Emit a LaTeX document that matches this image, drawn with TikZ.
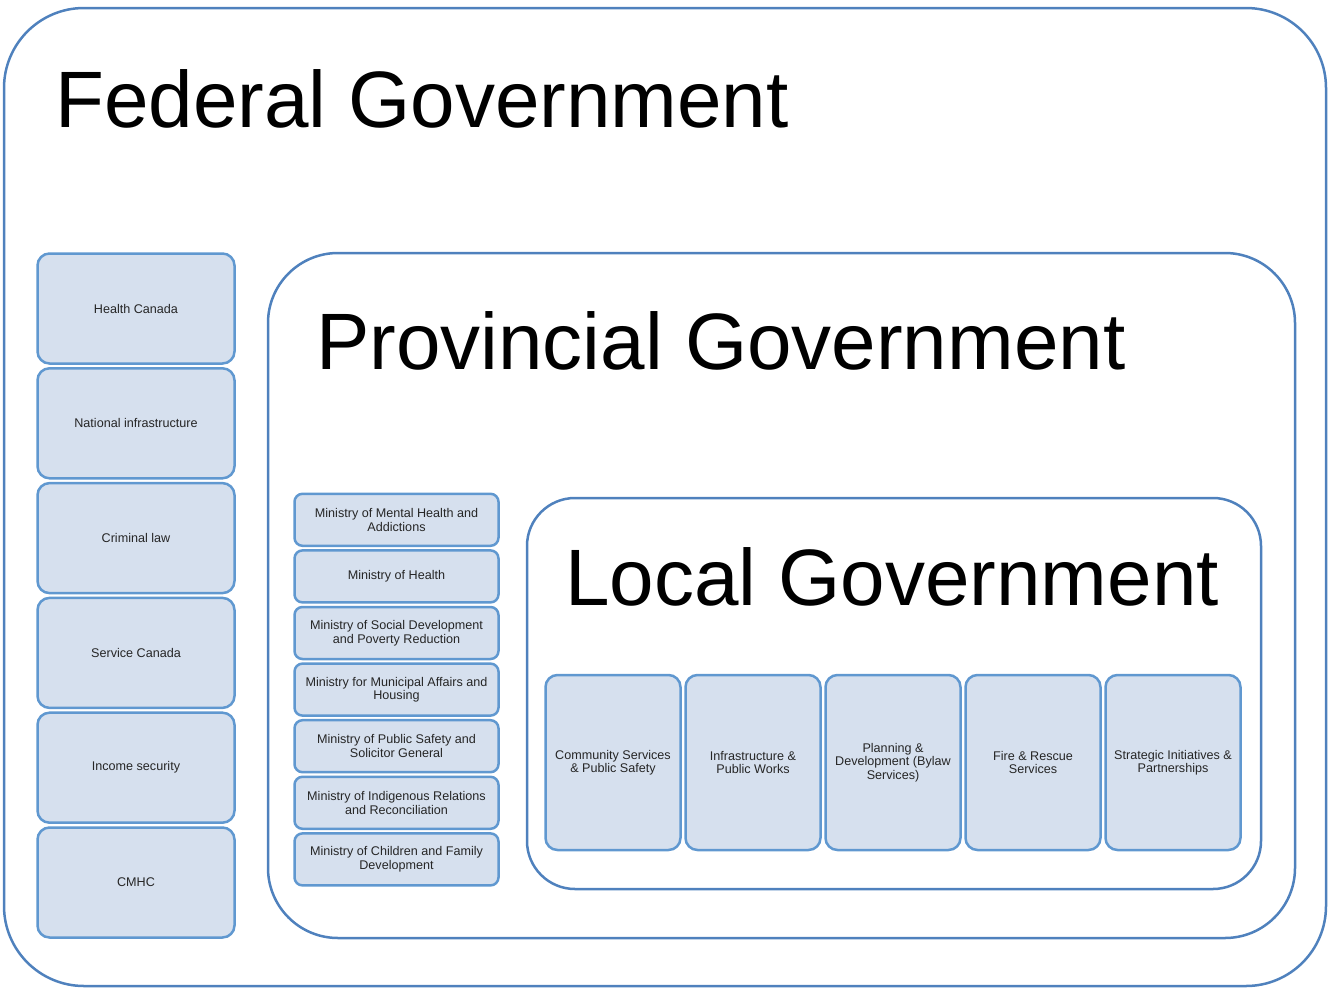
\documentclass[tikz,border=0pt]{standalone}
\usepackage{fontspec}
\setmainfont{Liberation Sans}
\definecolor{frameblue}{RGB}{79,129,189}
\definecolor{cellblue}{RGB}{96,152,208}
\definecolor{cellfill}{RGB}{214,224,238}
\tikzset{
  govframe/.style={draw=frameblue,line width=2.5pt},
  govtitle/.style={anchor=base west,inner sep=0pt,font=\fontsize{80}{80}\selectfont},
  unitbox/.style={draw=cellblue,fill=cellfill,line width=2.5pt,rounded corners=12pt,
    align=center,inner sep=2pt,text=black!85,font=\fontsize{12.6}{13.5}\selectfont},
}

\begin{document}
\begin{tikzpicture}[x=1pt,y=-1pt]
  \useasboundingbox (0,0) rectangle (1328,988);

  % nested frames
  \draw[govframe,rounded corners=80pt] (4,8) rectangle (1326,986);
  \draw[govframe,rounded corners=70pt] (268,253) rectangle (1295,938);
  \draw[govframe,rounded corners=48pt] (527,498) rectangle (1261,889);

  \node[govtitle] (fedtitle) at (55,127) {Federal Government};
  \node[govtitle] (provtitle) at (316,369) {Provincial Government};
  \node[govtitle] (loctitle) at (565,605) {Local Government};

  % federal units
  \foreach \nm/\txt [count=\i from 0] in {health/{Health Canada},infra/{National infrastructure},
      crim/{Criminal law},service/{Service Canada},income/{Income security},cmhc/{CMHC}}
    \node[unitbox,minimum width=197pt,minimum height=110pt] (fed-\nm) at (136,308.5+114.8*\i) {\txt};

  % provincial ministries
  \foreach \nm/\txt [count=\i from 0] in {mental/{Ministry of Mental Health and\\Addictions},
      health/{Ministry of Health},
      social/{Ministry of Social Development\\and Poverty Reduction},
      municipal/{Ministry for Municipal Affairs and\\Housing},
      safety/{Ministry of Public Safety and\\Solicitor General},
      indigenous/{Ministry of Indigenous Relations\\and Reconciliation},
      children/{Ministry of Children and Family\\Development}}
    \node[unitbox,rounded corners=8pt,minimum width=204pt,minimum height=52pt] (prov-\nm) at (396.5,519.8+56.6*\i) {\txt};

  % local departments
  \foreach \nm/\txt [count=\i from 0] in {community/{Community Services\\\& Public Safety},
      works/{Infrastructure \&\\Public Works},
      planning/{Planning \&\\Development (Bylaw\\Services)},
      fire/{Fire \& Rescue\\Services},
      strategic/{Strategic Initiatives \&\\Partnerships}}
    \node[unitbox,minimum width=135pt,minimum height=175pt] (loc-\nm) at (613+140*\i,762.5) {\txt};
\end{tikzpicture}
\end{document}
